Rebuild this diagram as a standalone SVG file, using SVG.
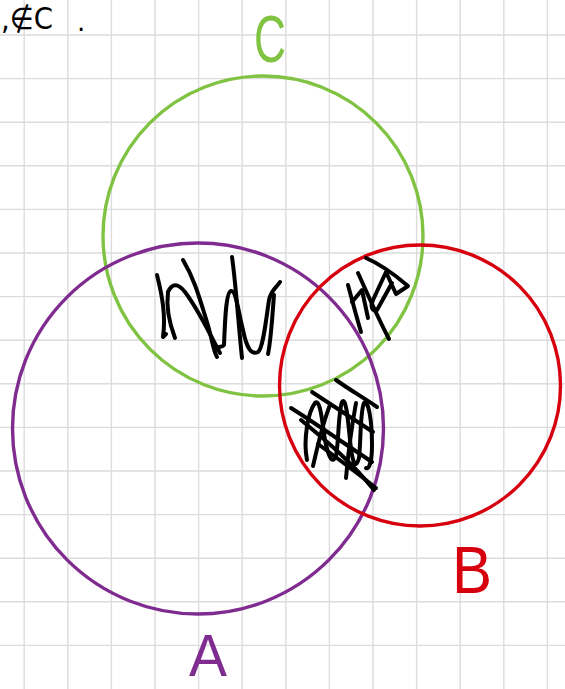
<svg xmlns="http://www.w3.org/2000/svg" width="565" height="689" viewBox="0 0 565 689">
<style>
.grid{stroke:#dcdcdc;stroke-width:1.4;fill:none}
.ring{fill:none;stroke-width:3.4}
.ink{fill:none;stroke:#000;stroke-width:4;stroke-linecap:round;stroke-linejoin:round}
.lbl{font-family:"Liberation Sans",Arial,sans-serif;text-anchor:middle}
</style>
<rect width="565" height="689" fill="#fff"/>
<g id="grid" class="grid">
<path d="M24.2,0V689M67.8,0V689M111.4,0V689M155,0V689M198.6,0V689M242.2,0V689M285.8,0V689M329.4,0V689M373,0V689M416.6,0V689M460.2,0V689M503.8,0V689M547.4,0V689"/>
<path d="M0,35H565M0,78.6H565M0,122.2H565M0,165.8H565M0,209.4H565M0,253H565M0,296.6H565M0,340.2H565M0,383.8H565M0,427.4H565M0,471H565M0,514.6H565M0,558.2H565M0,601.8H565M0,645.4H565"/>
</g>
<g id="note">
<text font-family="DejaVu Sans,sans-serif" font-size="30" x="1" y="29" textLength="52" lengthAdjust="spacingAndGlyphs">,∉C</text>
<text font-family="DejaVu Sans,sans-serif" font-size="26" x="77" y="31">.</text>
</g>
<g id="C">
<circle class="ring" cx="263" cy="236" r="160" stroke="#80c342"/>
<text class="lbl" font-size="66" fill="#80c342" x="270" y="62" textLength="32" lengthAdjust="spacingAndGlyphs">C</text>
</g>
<g id="A">
<circle class="ring" cx="198" cy="428.5" r="185.5" stroke="#7f2b8f"/>
<text class="lbl" font-size="60" fill="#7f2b8f" x="208" y="676" textLength="38" lengthAdjust="spacingAndGlyphs">A</text>
</g>
<g id="B">
<circle class="ring" cx="420" cy="385.5" r="140.5" stroke="#d7000f" stroke-width="3.8"/>
<text class="lbl" font-size="66" fill="#d7000f" x="472" y="593" textLength="40" lengthAdjust="spacingAndGlyphs">B</text>
</g>
<g id="shading" class="ink">
<path d="M157,275 C162,295 166,315 163,337 L166,334"/>
<path d="M168,292 C166,308 170,325 175,338"/>
<path d="M168,292 C172,283 178,283 185,292 C200,312 210,335 220,353"/>
<path d="M183,260 C195,280 200,300 207,322 C212,338 213,350 217,357"/>
<path d="M232,257 C236,285 238,320 242,358"/>
<path d="M215,350 C218,345 222,348 224,345 C225,320 226,292 231,291 C236,290 238,310 243,330 C247,350 252,355 258,352 C263,349 266,320 269,300 C271,290 276,288 280,282"/>
<path d="M274,295 C272,320 271,340 268,354"/>
<path d="M348,285 C352,300 356,315 361,332"/>
<path d="M358,273 C368,295 378,318 389,339"/>
<path d="M366,258 C380,264 394,274 408,286 L396,294 L386,272 L373,300 C370,306 372,312 377,310 L392,283"/>
<path d="M352,302 L362,290 L368,318"/>
<path d="M336,380 C350,390 364,398 377,407"/>
<path d="M312,392 C332,405 352,418 373,432"/>
<path d="M291,408 C318,425 345,444 372,462"/>
<path d="M301,420 C325,440 350,460 374,490"/>
<path d="M318,444 C337,458 356,472 376,488"/>
<path d="M307,460 C303,440 308,412 315,403 C320,398 322,420 325,440 C328,455 332,466 336,456 C339,440 338,414 342,402 C346,396 348,420 350,440 C352,460 355,472 359,458 C361,440 360,412 364,403 C368,398 372,420 372,445 C372,462 369,470 366,468"/>
<path d="M313,466 C318,445 322,425 330,405"/>
<path d="M346,478 C348,455 352,425 356,403"/>
</g>
</svg>
